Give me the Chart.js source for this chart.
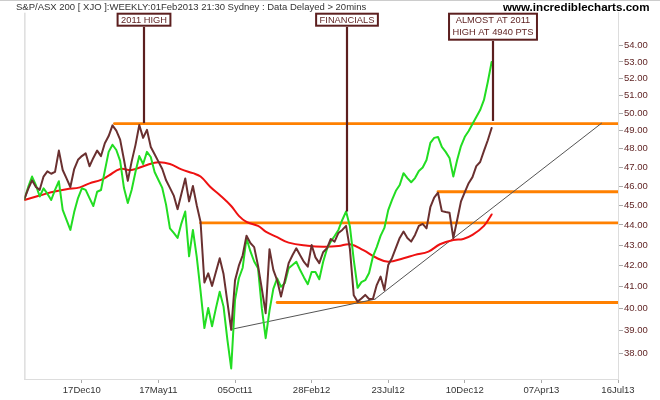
<!DOCTYPE html>
<html>
<head>
<meta charset="utf-8">
<script src="https://cdn.jsdelivr.net/npm/chart.js@4.4.1/dist/chart.umd.min.js"></script>
<style>
  html, body { margin: 0; padding: 0; background: #fff; }
  #wrap { width: 660px; height: 400px; }
</style>
</head>
<body>
<div id="wrap"><canvas id="chart" width="660" height="400"></canvas></div>
<script>
// weekly closes in hundreds of points, index = week from the first bar
const xjo = [
  45.33, 45.85, 46.3, 45.95, 45.8, 46.5, 46.78, 46.65, 46.75, 47.9,
  46.85, 46.4, 45.95, 46.9, 47.4, 47.6, 47.75, 47.05, 47.5, 47.9,
  47.6, 48.3, 48.7, 49.3, 49.0, 48.5, 47.4, 46.27, 47.3, 48.2,
  49.32, 48.6, 49.05, 48.1, 47.7, 47.3, 46.9, 46.3, 45.9, 45.5,
  44.8, 45.6, 46.4, 45.2, 46.0, 45.0, 44.15, 41.2, 41.63, 41.04,
  41.7, 42.36, 41.6, 40.3, 39.03, 41.3, 42.0, 42.5, 43.46, 43.1,
  42.9, 42.0, 40.9, 39.78, 42.8, 41.8, 41.3, 40.54, 41.3, 42.12,
  42.5, 42.84, 42.5, 42.18, 41.95, 43.0, 42.4, 42.12, 42.65, 42.84,
  43.3, 43.17, 43.6, 43.75, 43.95, 42.8, 40.6, 40.31, 40.45, 40.62,
  40.43, 40.43, 41.08, 41.48, 40.85, 42.03, 42.37, 42.86, 43.35, 43.67,
  43.35, 43.17, 43.5, 43.95, 44.05, 43.83, 44.9, 45.4, 45.65, 44.7,
  44.65, 44.62, 43.34, 44.25, 45.2, 45.68, 46.15, 46.47, 47.06, 47.28,
  47.88, 48.47, 49.15
];

// financials comparison line (green)
const financials = [
  45.31, 45.95, 46.5, 46.05, 45.45, 45.88, 45.6, 45.27, 45.8, 46.25,
  44.76, 44.25, 43.75, 44.65, 45.37, 45.88, 45.8, 45.37, 44.96, 45.7,
  45.79, 46.8, 47.83, 48.22, 47.93, 47.34, 45.89, 45.12, 45.79, 46.74,
  47.6, 47.17, 47.83, 47.55, 46.74, 46.32, 45.9, 45.02, 43.83, 43.6,
  43.35, 44.08, 44.68, 42.45, 43.75, 42.42, 40.8, 39.11, 40.02, 39.19,
  40.0, 40.77, 40.08, 38.6, 37.35, 40.39, 41.4, 41.9, 43.34, 42.7,
  42.2, 41.88, 40.0, 38.66, 39.9, 40.9, 41.39, 41.0, 41.17, 41.88,
  42.03, 42.19, 41.79, 41.44, 41.12, 41.7, 41.7, 41.35, 42.18, 42.81,
  43.17, 43.45, 43.75, 44.25, 44.68, 43.92, 42.28, 40.95, 41.22, 41.31,
  41.65, 42.43, 42.9, 43.45, 43.85, 44.75, 45.28, 45.75, 46.05, 46.68,
  46.42, 46.2, 46.42, 46.8, 46.98, 47.39, 48.32, 48.6, 48.65, 48.1,
  47.83, 47.5, 46.5, 47.39, 48.15, 48.66, 48.98, 49.38, 49.77, 50.17,
  50.75, 51.8, 53.0
];

// moving average (red), read at these weeks
const maWeeks = [0, 4, 7, 11, 14.5, 17, 20, 22, 25, 28, 32, 35, 38, 41, 44, 46, 48.5, 51, 54, 56,
  58, 61, 63, 66, 69, 74, 78, 82, 85, 88.5, 92, 95, 99, 102, 105.5, 108.5, 112, 114.6, 117, 120, 122];
const maValues = [45.27, 45.5, 45.67, 45.83, 45.93, 46.14, 46.32, 46.55, 46.9, 46.85, 47.12, 47.26, 47.17, 46.88, 46.68, 46.5, 45.96, 45.53, 44.96, 44.46,
  44.15, 43.95, 43.67, 43.39, 43.12, 42.97, 42.92, 42.95, 43.04, 42.75, 42.37, 42.19, 42.36, 42.52, 42.68, 43.04, 43.25, 43.3, 43.5, 43.95, 44.53];

const xTickWeeks = [15, 35, 55, 75, 95, 115, 135, 155];
const xTickLabels = ['17Dec10', '17May11', '05Oct11', '28Feb12', '23Jul12', '10Dec12', '07Apr13', '16Jul13'];
const yTicks = [38, 39, 40, 41, 42, 43, 44, 45, 46, 47, 48, 49, 50, 51, 52, 53, 54];

// support / resistance lines (orange): level and first week
const levels = [49.4, 45.7, 44.1, 40.27];
const levelStarts = [23.5, 108, 46, 66];

// trendlines (grey)
const trendWeeks = [[53.9, 91.5], [91.5, 150.7]];
const trendValues = [[39.05, 40.42], [40.42, 49.42]];

// callouts
const noteWeeks = [31.2, 84.2, 122.4];
const noteEnds = [49.43, 44.68, 49.55];
const noteTexts = [['2011 HIGH'], ['FINANCIALS'], ['ALMOST AT 2011', 'HIGH AT 4940 PTS']];

const titleText = 'S&P/ASX 200 [ XJO ]:WEEKLY:01Feb2013 21:30 Sydney : Data Delayed > 20mins';
const siteText = 'www.incrediblecharts.com';

const sans = '"Liberation Sans", Arial, sans-serif';
const noteColor = '#5c1f1f';

const toPoints = (weeks, vals) => vals.map((v, i) => ({ x: weeks ? weeks[i] : i, y: v }));

let datasets = [
  { data: toPoints(null, xjo), borderColor: '#6a3030', borderWidth: 2 },
  { data: toPoints(null, financials), borderColor: '#22dd22', borderWidth: 2 },
  { data: toPoints(maWeeks, maValues), borderColor: '#ee1111', borderWidth: 2, tension: 0.4 }
];
trendWeeks.forEach((w, i) => {
  datasets.push({ data: toPoints(w, trendValues[i]), borderColor: '#555555', borderWidth: 1 });
});
levels.forEach((lv, i) => {
  datasets.push({ data: [{ x: levelStarts[i], y: lv }, { x: 155, y: lv }], borderColor: '#ff8000', borderWidth: 2.8 });
});

const extras = {
  id: 'extras',
  beforeDraw(chart) {
    const ctx = chart.ctx, a = chart.chartArea;
    ctx.save();
    ctx.fillStyle = '#fff';
    ctx.fillRect(0, 0, chart.width, chart.height);
    ctx.strokeStyle = '#cccccc';
    ctx.lineWidth = 1;
    ctx.beginPath();
    ctx.moveTo(0, 0.5); ctx.lineTo(chart.width, 0.5);
    ctx.moveTo(a.left + 0.5, a.top); ctx.lineTo(a.left + 0.5, a.bottom);
    ctx.stroke();
    ctx.restore();
  },
  afterDatasetsDraw(chart) {
    const ctx = chart.ctx, xs = chart.scales.x, ys = chart.scales.y;
    ctx.save();
    ctx.font = '9.3px ' + sans;
    ctx.textAlign = 'center';
    ctx.textBaseline = 'middle';
    noteWeeks.forEach((w, i) => {
      const px = Math.round(xs.getPixelForValue(w));
      const lines = noteTexts[i];
      const tw = Math.max(...lines.map(t => ctx.measureText(t).width));
      const bw = tw + 9, bh = 14 * lines.length;
      const top = 12.7;
      ctx.strokeStyle = noteColor;
      ctx.lineWidth = 2.2;
      ctx.beginPath();
      ctx.moveTo(px, top + bh);
      ctx.lineTo(px, ys.getPixelForValue(noteEnds[i]));
      ctx.stroke();
      ctx.fillStyle = '#fff';
      ctx.fillRect(px - bw / 2, top, bw, bh);
      ctx.lineWidth = 2;
      ctx.strokeRect(px - bw / 2 + 1, top + 1, bw - 2, bh - 2);
      ctx.fillStyle = noteColor;
      lines.forEach((t, j) => ctx.fillText(t, px, top + 7.3 + j * 12.2));
    });
    // header texts
    ctx.textAlign = 'left';
    ctx.fillStyle = '#333';
    ctx.font = '9.5px ' + sans;
    ctx.fillText(titleText, 16, 7);
    ctx.fillStyle = '#000';
    ctx.font = 'bold 11.6px ' + sans;
    ctx.fillText(siteText, 503, 8);
    ctx.restore();
  }
};

new Chart(document.getElementById('chart'), {
  type: 'line',
  data: { datasets: datasets },
  options: {
    responsive: false,
    animation: false,
    devicePixelRatio: 1,
    layout: { padding: { left: 24.4, top: 12.7, right: 0, bottom: 0 } },
    elements: { point: { radius: 0 }, line: { fill: false, borderCapStyle: 'round', borderJoinStyle: 'round' } },
    plugins: { legend: { display: false }, tooltip: { enabled: false } },
    scales: {
      x: {
        type: 'linear', min: 0, max: 155,
        afterBuildTicks: s => { s.ticks = xTickWeeks.map(v => ({ value: v })); },
        afterFit: s => { s.height = 21; },
        grid: { drawOnChartArea: false, tickLength: 4, color: '#aaaaaa' },
        border: { color: '#dddddd' },
        ticks: {
          autoSkip: false, maxRotation: 0, padding: 2, color: '#333',
          font: { family: sans, size: 9.5 },
          callback: v => xTickLabels[xTickWeeks.indexOf(v)]
        }
      },
      y: {
        type: 'logarithmic', position: 'right', min: 36.9, max: 56.07,
        afterBuildTicks: s => { s.ticks = yTicks.map(v => ({ value: v })); },
        afterFit: s => { s.width = 42; },
        grid: { drawOnChartArea: false, tickLength: 5, color: '#aaaaaa' },
        border: { color: '#dddddd' },
        ticks: {
          padding: 1, color: '#5c1f1f',
          font: { family: sans, size: 9.5 },
          callback: v => Number(v).toFixed(2)
        }
      }
    }
  },
  plugins: [extras]
});
</script>
</body>
</html>
